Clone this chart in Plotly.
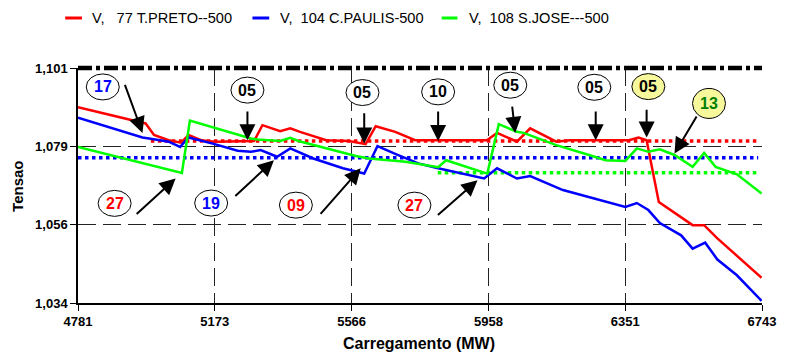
import plotly.graph_objects as go

# Bus voltages (p.u.) versus system loading (MW)
mw_tp = [4781, 4975, 4999, 5041, 5077, 5098, 5134, 5173, 5286, 5310, 5361, 5390, 5418,
         5493, 5558, 5606, 5635, 5691, 5748, 5954, 5983, 6040, 6078, 6153, 6191, 6361,
         6389, 6412, 6447, 6544, 6577, 6615, 6742]
v_tp = [1.0898, 1.0852, 1.0819, 1.0804, 1.0797, 1.0819, 1.0804, 1.0800, 1.0802, 1.0847,
        1.0830, 1.0838, 1.0828, 1.0804, 1.0802, 1.0793, 1.0844, 1.0828, 1.0804, 1.0804,
        1.0825, 1.0800, 1.0838, 1.0800, 1.0804, 1.0804, 1.0812, 1.0804, 1.0628, 1.0562,
        1.0562, 1.0524, 1.0412]

mw_cp = [4781, 4966, 5003, 5041, 5074, 5098, 5173, 5239, 5277, 5305, 5352, 5390, 5456,
         5541, 5602, 5640, 5691, 5757, 5814, 5946, 5983, 6040, 6078, 6172, 6351, 6384,
         6417, 6450, 6511, 6544, 6580, 6615, 6671, 6742]
v_cp = [1.0868, 1.0812, 1.0806, 1.0800, 1.0785, 1.0812, 1.0793, 1.0774, 1.0771, 1.0776,
        1.0757, 1.0781, 1.0752, 1.0724, 1.0709, 1.0787, 1.0765, 1.0738, 1.0724, 1.0695,
        1.0724, 1.0695, 1.0702, 1.0662, 1.0614, 1.0625, 1.0605, 1.0568, 1.0533, 1.0495,
        1.0512, 1.0464, 1.0419, 1.0346]

mw_sj = [4781, 5079, 5102, 5277, 5296, 5361, 5390, 5413, 5578, 5616, 5720, 5814, 5837,
         5955, 5988, 6040, 6059, 6153, 6247, 6294, 6351, 6384, 6417, 6450, 6492, 6544,
         6577, 6610, 6671, 6742]
v_sj = [1.0785, 1.0711, 1.0860, 1.0809, 1.0806, 1.0802, 1.0811, 1.0802, 1.0759, 1.0752,
        1.0743, 1.0727, 1.0747, 1.0709, 1.0850, 1.0828, 1.0825, 1.0790, 1.0762, 1.0747,
        1.0745, 1.0781, 1.0771, 1.0778, 1.0762, 1.0728, 1.0768, 1.0728, 1.0707, 1.0652]

# Reference voltage levels (dotted) and the loading span they cover
ref_tp_mw, ref_tp_v = [4990, 6729], 1.0802
ref_cp_mw, ref_cp_v = [4781, 6732], 1.0754
ref_sj_mw, ref_sj_v = [5813, 6730], 1.0711

series_names = ["V,\u00a0\u00a0\u00a077 T.PRETO--500",
                "V,\u00a0\u00a0104 C.PAULIS-500",
                "V,\u00a0\u00a0108 S.JOSE---500"]
series_colors = ["#ff0000", "#0000ff", "#00ff00"]

x_ticks = [4781, 5173.4, 5565.8, 5958.2, 6350.6, 6743]
x_tick_text = ["4781", "5173", "5566", "5958", "6351", "6743"]
y_ticks = [1.034, 1.056333, 1.078667, 1.101]
y_tick_text = ["1,034", "1,056", "1,079", "1,101"]

# Event markers: label, text colour, fill, centre (MW, V)
event_labels = ["17", "05", "05", "10", "05", "05", "05", "13", "27", "19", "09", "27"]
event_text_colors = ["#0000ff", "black", "black", "black", "black", "black", "black",
                     "#008000", "#ff0000", "#0000ff", "#ff0000", "#ff0000"]
event_fills = ["white"] * 6 + ["#f7f79c", "#f7f79c"] + ["white"] * 4
event_mw = [4852, 5267, 5597, 5814, 6021, 6262, 6417, 6591, 4886, 5163, 5406, 5746]
event_v = [1.0956, 1.0947, 1.0940, 1.0942, 1.0961, 1.0955, 1.0957, 1.0909,
           1.0624, 1.0625, 1.0619, 1.0619]

# Arrows from each marker to the point on the curve (tail -> head)
arrow_tail_mw = [4914, 5267, 5602, 5814, 6026, 6266, 6412, 6558, 4945, 5228, 5473, 5809]
arrow_tail_v = [1.0966, 1.0890, 1.0885, 1.0890, 1.0904, 1.0890, 1.0895, 1.0876,
                1.0590, 1.0641, 1.0590, 1.0587]
arrow_head_mw = [4966, 5267, 5602, 5814, 6035, 6266, 6412, 6492, 5061, 5343, 5592, 5927]
arrow_head_v = [1.0825, 1.0804, 1.0795, 1.0802, 1.0825, 1.0804, 1.0812, 1.0766,
                1.0695, 1.0747, 1.0724, 1.0690]

FONT = "Arial, 'Liberation Sans', sans-serif"
W, H = 788, 356
M_L, M_R, M_T, M_B = 78, 16, 68, 53
PLOT_W = W - M_L - M_R
PLOT_H = H - M_T - M_B


def px_x(px):
    return (px - M_L) / PLOT_W


def px_y(py):
    return (H - M_B - py) / PLOT_H


fig = go.Figure()

for mw, v, c in [(ref_tp_mw, ref_tp_v, series_colors[0]),
                 (ref_cp_mw, ref_cp_v, series_colors[1]),
                 (ref_sj_mw, ref_sj_v, series_colors[2])]:
    fig.add_trace(go.Scatter(x=mw, y=[v, v], mode="lines", showlegend=False,
                             line=dict(color=c, width=3.5, dash="dot"),
                             hoverinfo="skip"))

for name, mw, v, c in zip(series_names, [mw_tp, mw_cp, mw_sj], [v_tp, v_cp, v_sj],
                          series_colors):
    fig.add_trace(go.Scatter(x=mw, y=v, mode="lines", name=name, showlegend=False,
                             line=dict(color=c, width=2.5)))

shapes = []
annotations = []

# thick dash-dot limit line along the top (paper y so it is not clipped)
shapes.append(dict(type="line", xref="x", yref="paper", x0=x_ticks[0], x1=x_ticks[-1],
                   y0=1, y1=1,
                   line=dict(color="black", width=4.5, dash="14px,4px,4px,4px")))

for i in range(len(arrow_head_mw)):
    annotations.append(dict(x=arrow_head_mw[i], y=arrow_head_v[i],
                            ax=arrow_tail_mw[i], ay=arrow_tail_v[i],
                            xref="x", yref="y", axref="x", ayref="y",
                            text="", showarrow=True, arrowhead=2, arrowsize=1.6,
                            arrowwidth=2, arrowcolor="black", standoff=0))

for lab, tc, fc, mw, v in zip(event_labels, event_text_colors, event_fills,
                              event_mw, event_v):
    tall = 15 if lab == "13" else 13
    shapes.append(dict(type="circle", xref="x", yref="y", xsizemode="pixel",
                       ysizemode="pixel", xanchor=mw, yanchor=v,
                       x0=-16.5, x1=16.5, y0=-tall, y1=tall,
                       fillcolor=fc, line=dict(color="black", width=1)))
    annotations.append(dict(x=mw, y=v, xref="x", yref="y", text=lab, showarrow=False,
                            xanchor="center", yanchor="middle",
                            font=dict(family=FONT, size=16, color=tc, weight="bold")))

# legend drawn by hand across the top
leg_line_px = [(65, 82), (255, 272), (447, 463)]
leg_text_px = [90, 281, 473]
for (a, b), tx, name, c in zip(leg_line_px, leg_text_px, series_names, series_colors):
    shapes.append(dict(type="line", xref="paper", yref="paper", x0=px_x(a), x1=px_x(b),
                       y0=px_y(18), y1=px_y(18), line=dict(color=c, width=3)))
    annotations.append(dict(x=px_x(tx), y=px_y(18), xref="paper", yref="paper",
                            xanchor="left", yanchor="middle", text=name, showarrow=False,
                            font=dict(family=FONT, size=14.6, color="black")))

# axis titles
annotations.append(dict(x=px_x(424), y=px_y(343), xref="paper", yref="paper",
                        xanchor="center", yanchor="middle",
                        text="Carregamento (MW)", showarrow=False,
                        font=dict(family=FONT, size=16, color="black", weight="bold")))
annotations.append(dict(x=px_x(16), y=px_y(186), xref="paper", yref="paper",
                        xanchor="center", yanchor="middle",
                        text="Tensao", showarrow=False, textangle=-90,
                        font=dict(family=FONT, size=15, color="black", weight="bold")))

fig.update_layout(
    width=W, height=H,
    margin=dict(l=M_L, r=M_R, t=M_T, b=M_B),
    paper_bgcolor="white", plot_bgcolor="white",
    shapes=shapes, annotations=annotations,
    showlegend=False,
    xaxis=dict(range=[x_ticks[0], x_ticks[-1]], tickvals=x_ticks, ticktext=x_tick_text,
               showgrid=True, gridcolor="#222", gridwidth=1, griddash="18px,7px",
               zeroline=False, showline=True, linecolor="black", linewidth=1.5,
               ticks="outside", ticklen=6, tickcolor="black",
               tickfont=dict(family=FONT, size=13, color="black", weight="bold")),
    yaxis=dict(range=[y_ticks[0], y_ticks[-1]], tickvals=y_ticks, ticktext=y_tick_text,
               showgrid=True, gridcolor="#222", gridwidth=1, griddash="18px,7px",
               zeroline=False, showline=True, linecolor="black", linewidth=1.5,
               ticks="outside", ticklen=6, tickcolor="black",
               tickfont=dict(family=FONT, size=13, color="black", weight="bold")),
)

fig.write_html("out.html")
